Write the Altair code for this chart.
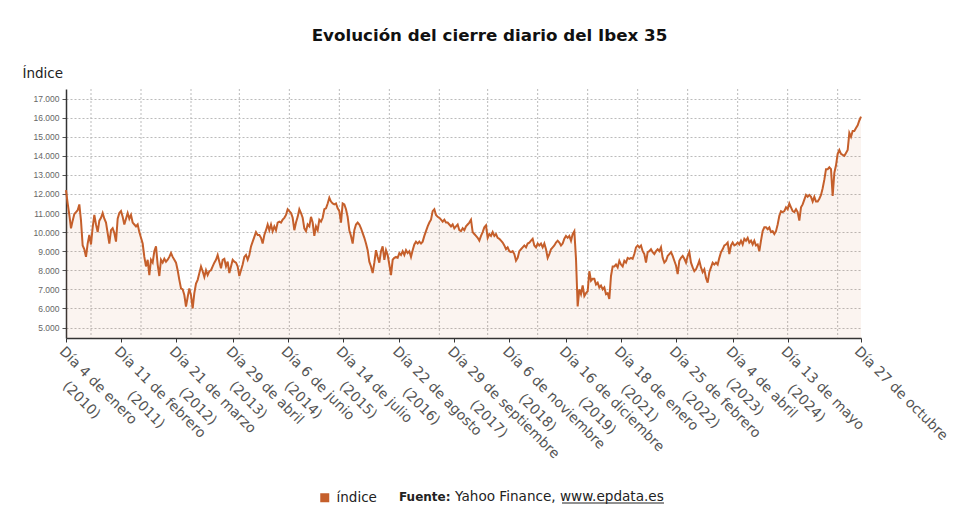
import json

import altair as alt
import pandas as pd

titulo = "Evolución del cierre diario del Ibex 35"

# cierre diario del Ibex 35 (puntos de igual separación en sesiones)
cierre_2010_2013 = [
    12200, 11500, 10900, 10200, 10600, 10950, 11050, 11150, 11450, 10600,
    9300, 9100, 8700, 9400, 9850, 9350, 10250, 10900, 10400, 10000,
    10600, 10750, 11000, 10700, 10500, 9950, 9400, 10100, 10200, 9950,
    9500, 10700, 11000, 11100, 10800, 10400, 10700, 11000, 10700, 10900,
    10500, 10400, 10300, 10400, 10000, 9700, 9400, 8700, 8200, 8550,
    7750, 8550, 8400, 9000, 9250, 8300, 7700, 8550, 8400, 8600,
    8450, 8550, 8700, 8900, 8700, 8550, 8400, 8000, 7500, 7050,
    7000, 6700, 6100, 6600, 7050, 6700, 6000, 6800, 7300, 7500,
    7850, 8200, 7950, 7650, 8000, 7750, 7950, 8000, 8200, 8400,
    8550, 8800, 8450, 8100, 8550, 8600, 8200, 8450, 7850, 8200,
    8550, 8450, 8400, 8200, 7700, 8000, 8300, 8700, 8800, 8550,
    8800, 9250, 9500, 9750, 10000, 9850, 9850, 9700, 9400, 9850,
    10100, 10400, 10100,
]
cierre_2013_2017 = [
    10400, 10050, 10300, 10100, 10500, 10550, 10500, 10650, 10750, 10900,
    11200, 11100, 11000, 10750, 10100, 10500, 10800, 11200, 11000, 10750,
    10200, 10050, 10400, 10300, 10800, 10500, 9800, 10300, 10100, 10650,
    10550, 10750, 11200, 11250, 11500, 11800, 11600, 11500, 11450, 11500,
    11250, 11100, 10500, 11500, 11450, 11200, 10800, 10100, 9800, 9400,
    10100, 10400, 10500, 10400, 10200, 9950, 9700, 9400, 9050, 8450,
    8200, 7850, 8400, 9050, 8700, 8400, 9000, 9250, 8550, 9050,
    8800, 8300, 7750, 8550, 8650, 8700, 8650, 8900, 8800, 9000,
    8800, 9050, 8900, 9000, 8700, 9050, 9350, 9500, 9400, 9500,
    9400, 9500, 9800, 10050, 10300, 10500, 10650, 11100, 11200, 10900,
    10800, 10750, 10650, 10550, 10650, 10500, 10500, 10400, 10300, 10400,
    10200, 10300, 10400, 10100, 10050, 10200, 10100, 10300, 10400, 10500,
]
cierre_2017_2021 = [
    10650, 10000, 9900, 9800, 9700, 9550, 9800, 10000, 10250, 10350,
    9700, 9900, 9800, 10000, 9800, 9900, 9700, 9650, 9550, 9450,
    9300, 9100, 9200, 9000, 8950, 9000, 8850, 8500, 8650, 9000,
    9100, 9200, 9300, 9200, 9400, 9450, 9550, 9650, 9300, 9200,
    9400, 9300, 9400, 9200, 9400, 9100, 8650, 8850, 9100, 9200,
    9300, 9450, 9550, 9450, 9300, 9400, 9650, 9800, 9700, 9800,
    9550, 9900, 10050, 8600, 6100, 7000, 6750, 7200, 6650, 6800,
    6900, 7950, 7450, 7550, 7550, 7250, 7350, 7100, 7200, 7000,
    7100, 6750, 6800, 6500, 7700, 8200, 8200, 8300, 8150, 8500,
    8300, 8200, 8500, 8400, 8650, 8600, 8650, 8600, 8850, 9200,
    9300, 9200, 9300, 9000, 8850, 8400, 8950, 9000, 9100, 8950,
    8850, 9000, 9100, 9000, 9200, 8650, 8400, 8500, 8750, 8850,
]
cierre_2021_2025 = [
    8950, 8750, 8500, 8250, 7800, 8500, 8650, 8750, 8600, 8400,
    8750, 8950, 8400, 8150, 7950, 8050, 8250, 8500, 8150, 7900,
    8050, 7600, 7350, 7900, 8150, 8400, 8300, 8400, 8300, 8650,
    8950, 9100, 9300, 9350, 9450, 8850, 9300, 9450, 9300, 9350,
    9450, 9350, 9550, 9350, 9650, 9550, 9700, 9450, 9550, 9350,
    9550, 9300, 9350, 9000, 9550, 10050, 10250, 10250, 10150, 10250,
    10000, 10050, 9900, 10050, 10400, 10850, 11100, 11050, 11100, 11300,
    11200, 11500, 11300, 11100, 11050, 11200, 11050, 10600, 11300, 11450,
    11700, 11950, 11850, 11950, 11850, 11600, 11850, 11600, 11600, 11750,
    11950, 12300, 12750, 13300, 13300, 13400, 13300, 11900, 13100, 13500,
    14100, 14300, 14100, 14050, 14000, 14150, 14300, 15200, 15000, 15300,
    15300, 15450, 15600, 15850, 16050,
]

# etiquetas del eje X: fecha, año y sesión en la que caen
fechas_eje = [
    "Día 4 de enero", "Día 11 de febrero", "Día 21 de marzo", "Día 29 de abril",
    "Día 6 de junio", "Día 14 de julio", "Día 22 de agosto", "Día 29 de septiembre",
    "Día 6 de noviembre", "Día 16 de diciembre", "Día 18 de enero", "Día 25 de febrero",
    "Día 4 de abril", "Día 13 de mayo", "Día 27 de octubre",
]
anios_eje = ["2010", "2011", "2012", "2013", "2014", "2015", "2016", "2017",
             "2018", "2019", "2021", "2022", "2023", "2024", ""]
pos_eje = [0, 33, 66, 100, 133, 166, 200, 233, 266, 300, 333, 366, 400, 433, 477]
pos_rejilla = [15, 45, 75, 104, 134, 164, 194, 224, 253, 283, 313, 343, 373, 403, 433, 463]
valores_y = [5000, 6000, 7000, 8000, 9000, 10000, 11000, 12000,
             13000, 14000, 15000, 16000, 17000]

naranja = "#c55f2b"

cierre = cierre_2010_2013 + cierre_2013_2017 + cierre_2017_2021 + cierre_2021_2025
df = pd.DataFrame({"sesion": range(len(cierre)), "cierre": cierre, "serie": "índice"})
rejilla = pd.DataFrame({"sesion": pos_rejilla})
pie = pd.DataFrame({"negrita": ["Fuente:"], "texto": ["Yahoo Finance, www.epdata.es"]})

# anchos aproximados de DejaVu Sans (em) para centrar el año bajo la fecha
ANCHO = {"D": .770, "í": .278, "a": .613, " ": .318, "d": .635, "e": .615, "n": .634,
         "r": .411, "o": .612, "b": .635, "f": .352, "m": .974, "z": .525, "i": .278,
         "l": .278, "j": .278, "u": .634, "t": .392, "g": .635, "s": .521, "p": .635,
         "c": .550, "v": .592, "y": .592, "h": .634, "(": .390, ")": .390}


def ancho(txt):
    return sum(ANCHO.get(c, .636) for c in txt)


def etiqueta(fecha, anio):
    if not anio:
        return [fecha]
    linea2 = "(" + anio + ")"
    hueco = max(0, round((ancho(fecha) - ancho(linea2)) / 2 / ANCHO[" "]))
    # Vega recorta los espacios iniciales: un espacio de ancho cero los protege
    return [fecha, "\u200b" + "\u00a0" * hueco + linea2]


lineas = [etiqueta(f, a) for f, a in zip(fechas_eje, anios_eje)]
expr_x = json.dumps(lineas, ensure_ascii=False) + "[indexof(" + json.dumps(pos_eje) + ", datum.value)]"

eje_x = alt.Axis(
    values=pos_eje, labelExpr=expr_x, labelAngle=45, labelAlign="left",
    labelBaseline="top", labelFont="DejaVu Sans", labelFontSize=14,
    labelColor="#555", labelLineHeight=22, labelOverlap=False, labelFlush=False,
    labelPadding=2, grid=False, tickSize=4, tickColor="#333",
    domainColor="#333", domainWidth=1.5, title=None,
)
eje_y = alt.Axis(
    values=valores_y, labelExpr="replace(format(datum.value, ','), ',', '.')",
    labelFont="Liberation Sans", labelFontSize=8.5, labelColor="#666",
    labelPadding=3, tickSize=4, tickColor="#555",
    grid=True, gridDash=[2, 2], gridColor="#bbb",
    domainColor="#333", domainWidth=1.5,
    title="Índice", titleAngle=0, titleAlign="left", titleBaseline="alphabetic",
    titleX=-44, titleY=-12, titleFont="DejaVu Sans", titleFontSize=13.5,
    titleFontWeight="normal", titleColor="#222",
)
x = alt.X("sesion:Q", scale=alt.Scale(domain=[0, 477], nice=False, zero=False), axis=eje_x)
y = alt.Y("cierre:Q", scale=alt.Scale(domain=[4450, 17500], nice=False, zero=False), axis=eje_y)

lineas_v = alt.Chart(rejilla).mark_rule(
    color="#bbb", strokeDash=[2, 2], strokeWidth=1
).encode(x=x)

base = alt.Chart(df).encode(x=x, y=y)
area = base.mark_area(color=naranja, opacity=0.07, clip=True)
linea = base.mark_line(strokeWidth=2).encode(
    color=alt.Color(
        "serie:N", scale=alt.Scale(range=[naranja]),
        legend=alt.Legend(
            title=None, orient="none", legendX=252, legendY=402, padding=0,
            symbolType="square", symbolSize=81, symbolFillColor=naranja,
            symbolStrokeWidth=0, labelFont="DejaVu Sans", labelFontSize=13.5,
            labelColor="#222", labelOffset=5,
        ),
    )
)

fuente = alt.Chart(pie).mark_text(
    font="DejaVu Sans", fontSize=12, fontWeight="bold", align="left",
    baseline="alphabetic", color="#222"
).encode(x=alt.value(333), y=alt.value(412), text="negrita:N")
origen = alt.Chart(pie).mark_text(
    font="DejaVu Sans", fontSize=13.6, align="left", baseline="alphabetic", color="#222"
).encode(x=alt.value(389), y=alt.value(412), text="texto:N")
subrayado = alt.Chart(pie).mark_rule(color="#222", strokeWidth=1).encode(
    x=alt.value(496), x2=alt.value(598), y=alt.value(414)
)

chart = alt.layer(lineas_v, area, linea, fuente, origen, subrayado).properties(
    width=795, height=249,
    title=alt.TitleParams(
        titulo, font="DejaVu Sans", fontSize=16.7, fontWeight="bold",
        color="#111", anchor="middle", frame="group", dx=26, offset=21,
    ),
    autosize=alt.AutoSizeParams(type="none"),
    padding={"left": 58, "top": 81, "right": 111, "bottom": 186},
).configure_view(stroke=None)

chart.save("out.html", embed_options={"renderer": "svg", "actions": False})
